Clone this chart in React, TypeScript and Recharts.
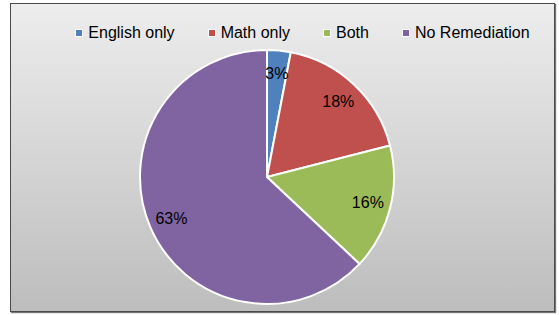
import { PieChart, Pie, Cell, Legend } from "recharts";

const categories = ["English only", "Math only", "Both", "No Remediation"];
const shares = [3, 18, 16, 63];
const colors = ["#4f81bd", "#c0504d", "#9bbb59", "#8064a2"];

const data = categories.map((name, i) => ({ name, value: shares[i] }));

const FONT = "'Liberation Sans', Arial, sans-serif";
const RADIAN = Math.PI / 180;

const renderLabel = (props: any) => {
  const { cx, cy, midAngle, outerRadius, value } = props;
  const r = outerRadius * 0.82;
  const x = cx + r * Math.cos(-midAngle * RADIAN);
  const y = cy + r * Math.sin(-midAngle * RADIAN);
  return (
    <text
      x={x}
      y={y}
      fill="#000"
      fontSize={16}
      fontFamily={FONT}
      textAnchor="middle"
      dominantBaseline="central"
    >
      {`${value}%`}
    </text>
  );
};

const renderLegend = () => (
  <div
    style={{
      display: "flex",
      justifyContent: "center",
      gap: 33,
      paddingLeft: 40,
      fontFamily: FONT,
      fontSize: 16,
      color: "#000",
    }}
  >
    {categories.map((c, i) => (
      <div key={c} style={{ display: "flex", alignItems: "center" }}>
        <span
          style={{
            width: 6,
            height: 6,
            background: colors[i],
            border: "1px solid #fff",
            marginRight: 5,
          }}
        />
        <span>{c}</span>
      </div>
    ))}
  </div>
);

export default function App() {
  return (
    <div
      style={{
        position: "absolute",
        left: 10,
        top: 3,
        width: 543,
        height: 307,
        border: "1px solid #4a4a4a",
        boxShadow: "1px 1px 1px #777",
        background: "linear-gradient(to bottom, #ededed, #bdbdbd)",
      }}
    >
      <PieChart width={543} height={307}>
        <Legend
          verticalAlign="top"
          content={renderLegend}
          wrapperStyle={{ top: 20, left: 0, width: 543 }}
        />
        <Pie
          data={data}
          dataKey="value"
          nameKey="name"
          cx={251}
          cy={150}
          outerRadius={127}
          startAngle={90}
          endAngle={-270}
          stroke="#fff"
          strokeWidth={2}
          label={renderLabel}
          labelLine={false}
          isAnimationActive={false}
        >
          {data.map((d, i) => (
            <Cell key={d.name} fill={colors[i]} />
          ))}
        </Pie>
      </PieChart>
    </div>
  );
}
